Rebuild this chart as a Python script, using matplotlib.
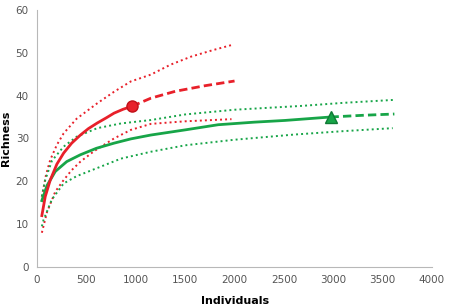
import matplotlib
matplotlib.use("Agg")
import matplotlib.pyplot as plt

# red assemblage: rarefaction (observed), extrapolation and 95% bounds
red_x = [48, 82, 133, 200, 269, 350, 439, 520, 609, 700, 779, 870, 960]
red_y = [12, 16.4, 20.3, 24, 26.6, 28.9, 30.8, 32.3, 33.6, 34.8, 35.9, 36.8, 37.5]
red_ext_x = [960, 1153, 1400, 1700, 2000]
red_ext_y = [37.5, 39.4, 41.0, 42.3, 43.4]
red_hi_x = [48, 90, 133, 200, 269, 400, 609, 780, 949, 1153, 1350, 1561, 1780, 1987]
red_hi = [16.4, 21.5, 25, 28.5, 31.2, 34.6, 38.2, 40.9, 43.3, 44.9, 47.2, 49.1, 50.6, 51.9]
red_lo_x = [48, 100, 184, 269, 350, 439, 575, 779, 950, 1153, 1500, 1969]
red_lo = [8, 12.8, 17.6, 20.3, 22.6, 24.6, 27.0, 30.0, 32.0, 33.4, 34.0, 34.5]

# green assemblage
grn_x = [48, 100, 184, 300, 439, 600, 779, 950, 1153, 1500, 1834, 2200, 2510, 2972]
grn_y = [15.5, 19, 22.3, 24.6, 26.2, 27.7, 28.9, 29.9, 30.8, 32.0, 33.2, 33.8, 34.2, 35]
grn_ext_x = [2972, 3300, 3619]
grn_ext_y = [35, 35.4, 35.7]
grn_hi_x = [48, 82, 150, 269, 400, 609, 850, 1153, 1500, 2000, 2684, 3100, 3619]
grn_hi = [16.5, 20.3, 24.8, 28.1, 30.4, 32.4, 33.5, 34.3, 35.6, 36.7, 37.6, 38.3, 39]
grn_lo_x = [48, 65, 150, 269, 400, 609, 850, 1153, 1500, 2000, 2600, 3100, 3602]
grn_lo = [9.5, 11, 15.8, 19.5, 21.2, 23.1, 25.3, 26.9, 28.4, 29.7, 30.9, 31.7, 32.4]

RED = "#e8202a"
GREEN = "#17a548"
DOT = (0, (1, 1.6))
DASH = (0, (3, 1.5))

fig = plt.figure(figsize=(4.64, 3.08), dpi=100)
ax = fig.add_axes([0.08, 0.133, 0.851, 0.835])

ax.plot(red_hi_x, red_hi, ls=DOT, color=RED, lw=1.4)
ax.plot(red_lo_x, red_lo, ls=DOT, color=RED, lw=1.4)
ax.plot(grn_hi_x, grn_hi, ls=DOT, color=GREEN, lw=1.4)
ax.plot(grn_lo_x, grn_lo, ls=DOT, color=GREEN, lw=1.4)

ax.plot(grn_x, grn_y, color=GREEN, lw=2)
ax.plot(grn_ext_x, grn_ext_y, color=GREEN, lw=2, ls=DASH)
ax.plot([grn_x[-1]], [grn_y[-1]], marker="^", color=GREEN, ms=8, mec="#0f7a35")

ax.plot(red_x, red_y, color=RED, lw=2)
ax.plot(red_ext_x, red_ext_y, color=RED, lw=2, ls=DASH)
ax.plot([red_x[-1]], [red_y[-1]], marker="o", color=RED, ms=8, mec="#c01018")

ax.set_xlim(0, 4000)
ax.set_ylim(0, 60)
ax.set_xticks(range(0, 4001, 500))
ax.set_yticks(range(0, 61, 10))
for s in ["top", "right"]:
    ax.spines[s].set_visible(False)
for s in ["left", "bottom"]:
    ax.spines[s].set_color("#b8b8b8")
ax.tick_params(length=0, labelsize=7.5, labelcolor="#555555", pad=6)

fig.text(235 / 464, 1 - 301 / 308, "Individuals", fontsize=8, fontweight="bold",
         ha="center", va="center")
fig.text(6 / 464, 1 - 138 / 308, "Richness", fontsize=8, fontweight="bold",
         ha="center", va="center", rotation=90)

fig.savefig("out.png", dpi=100)
